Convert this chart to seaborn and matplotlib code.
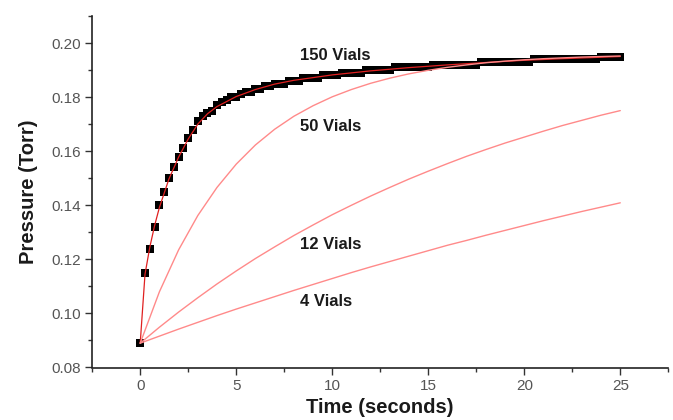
import numpy as np
import pandas as pd
import seaborn as sns
import matplotlib.pyplot as plt
from matplotlib.ticker import MultipleLocator

# measured data, 150 vials (sampled every 0.25 s)
t_150 = [i * 0.25 for i in range(101)]
p_150 = [0.089, 0.115, 0.124, 0.132, 0.140, 0.145, 0.150, 0.154, 0.158, 0.161,
         0.165, 0.168, 0.171, 0.173, 0.174, 0.175, 0.177, 0.178, 0.179, 0.180,
         0.180, 0.181, 0.182, 0.182, 0.183, 0.183, 0.184, 0.184, 0.185, 0.185,
         0.185, 0.186, 0.186, 0.186, 0.187, 0.187, 0.187, 0.187, 0.188, 0.188,
         0.188, 0.188, 0.189, 0.189, 0.189, 0.189, 0.189, 0.190, 0.190, 0.190,
         0.190, 0.190, 0.190, 0.191, 0.191, 0.191, 0.191, 0.191, 0.191, 0.191,
         0.191, 0.192, 0.192, 0.192, 0.192, 0.192, 0.192, 0.192, 0.192, 0.192,
         0.192, 0.193, 0.193, 0.193, 0.193, 0.193, 0.193, 0.193, 0.193, 0.193,
         0.193, 0.193, 0.194, 0.194, 0.194, 0.194, 0.194, 0.194, 0.194, 0.194,
         0.194, 0.194, 0.194, 0.194, 0.194, 0.194, 0.195, 0.195, 0.195, 0.195,
         0.195]

# model curves
t_fit150 = [0, 0.25, 0.5, 0.75, 1, 1.5, 2, 2.5, 3, 3.5, 4, 5, 6, 7, 8, 10, 12, 14, 16, 18, 20, 22, 25]
p_fit150 = [0.089, 0.1145, 0.1245, 0.1325, 0.1392, 0.1498, 0.1578, 0.1645, 0.1700, 0.1738, 0.1765,
            0.1802, 0.1828, 0.1848, 0.1862, 0.1882, 0.1897, 0.1909, 0.1919, 0.1928, 0.1936, 0.1942, 0.1950]

t_fit = list(range(26))
p_50 = [0.0890, 0.1080, 0.1235, 0.1362, 0.1466, 0.1552, 0.1623, 0.1681, 0.1729, 0.1768,
        0.1801, 0.1828, 0.1851, 0.1870, 0.1886, 0.1899, 0.1910, 0.1919, 0.1927, 0.1933,
        0.1938, 0.1942, 0.1945, 0.1948, 0.1950, 0.1952]
p_12 = [0.0890, 0.0949, 0.1005, 0.1058, 0.1109, 0.1157, 0.1203, 0.1246, 0.1288, 0.1327,
        0.1365, 0.1400, 0.1434, 0.1466, 0.1497, 0.1526, 0.1554, 0.1581, 0.1606, 0.1630,
        0.1652, 0.1674, 0.1695, 0.1714, 0.1733, 0.1750]
p_4 = [0.0890, 0.0916, 0.0942, 0.0967, 0.0992, 0.1016, 0.1039, 0.1062, 0.1085, 0.1107,
       0.1129, 0.1151, 0.1172, 0.1192, 0.1212, 0.1232, 0.1252, 0.1270, 0.1289, 0.1307,
       0.1325, 0.1343, 0.1360, 0.1377, 0.1393, 0.1409]

labels = ["150 Vials", "50 Vials", "12 Vials", "4 Vials"]
label_y = [0.1953, 0.1690, 0.1255, 0.1043]

sns.set_style("ticks")
plt.rcParams['font.family'] = ['Liberation Sans', 'DejaVu Sans']

fig = plt.figure(figsize=(6.73, 4.2), dpi=100)
ax = fig.add_axes([0.137, 0.125, 0.856, 0.837])

sns.scatterplot(x=t_150, y=p_150, marker="s", color="black", s=28, linewidth=0,
                ax=ax, zorder=2)

red = "#ff8a8a"
sns.lineplot(x=t_fit150, y=p_fit150, color="#e02020", linewidth=0.9, ax=ax, zorder=3)
for p in [p_50, p_12, p_4]:
    sns.lineplot(x=t_fit, y=p, color=red, linewidth=1.0, ax=ax, zorder=3)

for lab, yy in zip(labels, label_y):
    ax.text(8.3, yy, lab, fontsize=12, fontweight="bold", color="#1a1a1a",
            ha="left", va="center")

ax.set_xlim(-2.5, 27.5)
ax.set_ylim(0.08, 0.21)
ax.xaxis.set_major_locator(MultipleLocator(5))
ax.xaxis.set_minor_locator(MultipleLocator(2.5))
ax.yaxis.set_minor_locator(MultipleLocator(0.01))
ax.set_yticks(np.arange(0.08, 0.201, 0.02))
ax.set_yticklabels([f"{v:.2f}" for v in np.arange(0.08, 0.201, 0.02)])

ax.tick_params(which="major", length=5, width=1, colors="#333333", labelsize=11,
               labelcolor="#555555", pad=3)
ax.tick_params(which="minor", length=3, width=1, colors="#333333")
for s in ["left", "bottom"]:
    ax.spines[s].set_linewidth(1.2)
    ax.spines[s].set_color("#222222")
sns.despine(ax=ax)

ax.set_xlabel("Time (seconds)", fontsize=14.5, fontweight="bold", labelpad=4, color="#1a1a1a")
ax.set_ylabel("Pressure (Torr)", fontsize=14.5, fontweight="bold", labelpad=10, color="#1a1a1a")

fig.savefig("out.png", dpi=100)
